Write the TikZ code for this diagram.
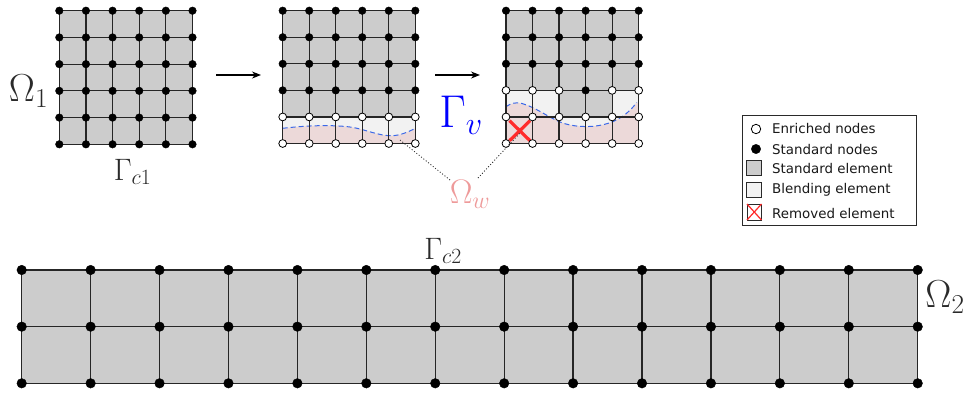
\documentclass[tikz,border=0pt]{standalone}
\usepackage{fix-cm}
\usepackage{fontspec}
\newfontfamily\legendfont{DejaVu Sans}
\usetikzlibrary{arrows.meta}
\definecolor{stdgrey}{HTML}{CCCCCC}
\definecolor{blendgrey}{HTML}{F2F2F2}
\definecolor{wetpink}{HTML}{ECD9D9}
\definecolor{curveblue}{HTML}{3A68E8}
\definecolor{omegapink}{HTML}{EE9A9A}
\definecolor{crossred}{HTML}{FF2A2A}
\definecolor{inkdark}{HTML}{2A2A2A}
\tikzset{
  x=1pt,y=-1pt,
  stdnode/.style={circle,fill=black,draw=black,line width=0.4pt,inner sep=0pt,minimum size=7.6pt},
  enrnode/.style={circle,fill=white,draw=black,line width=0.8pt,inner sep=0pt,minimum size=7.8pt},
  bignode/.style={circle,fill=black,draw=black,line width=0.4pt,inner sep=0pt,minimum size=9.6pt},
  meshline/.style={line width=1.2pt,draw=black!85},
  flowarrow/.style={line width=1.2pt,-{Stealth[length=9pt,width=7pt]}},
  dotlink/.style={line width=0.8pt,dash pattern=on 1pt off 2pt,draw=black!85},
  wetcurve/.style={line width=1pt,dash pattern=on 5pt off 3pt,draw=curveblue},
  crossmark/.style={line width=3.2pt,draw=crossred},
  lgtext/.style={anchor=west,inner sep=0pt,font=\legendfont\fontsize{13.4}{15}\selectfont,text=black!90},
  lgbox/.style={line width=1pt,draw=inkdark},
}
% \meshco{name}{x0}{y0}{x1}{y1}{nx}{ny}: named corner coordinates of a mesh
\newcommand{\meshco}[7]{%
  \foreach \i in {0,...,#6}{\foreach \j in {0,...,#7}{%
    \coordinate (#1-\i-\j) at ({#2+(#4-#2)*\i/#6},{#3+(#5-#3)*\j/#7});}}}
% \meshlines{name}{nx}{ny}
\newcommand{\meshlines}[3]{%
  \foreach \i in {0,...,#2}{\draw[meshline] (#1-\i-0) -- (#1-\i-#3);}%
  \foreach \j in {0,...,#3}{\draw[meshline] (#1-0-\j) -- (#1-#2-\j);}}
\begin{document}
\begin{tikzpicture}
\useasboundingbox (0,0) rectangle (966,392);
\meshco{a}{59.3}{10.7}{192.5}{144.3}{5}{5}
\meshco{b}{282.7}{10.7}{415.3}{143.5}{5}{5}
\meshco{c}{506}{10.7}{638.7}{143.5}{5}{5}
\meshco{d}{21.7}{270}{917.7}{383.3}{13}{2}
% fills
\fill[stdgrey] (a-0-0) rectangle (a-5-5);
\fill[stdgrey] (b-0-0) rectangle (b-5-4);
\fill[blendgrey] (b-0-4) rectangle (b-5-5);
\fill[stdgrey] (c-0-0) rectangle (c-5-3);
\fill[blendgrey] (c-0-3) rectangle (c-2-4);
\fill[stdgrey] (c-2-3) rectangle (c-4-4);
\fill[blendgrey] (c-4-3) rectangle (c-5-4);
\fill[blendgrey] (c-0-4) rectangle (c-5-5);
\fill[stdgrey] (d-0-0) rectangle (d-13-2);
% wet regions
\fill[wetpink] (b-0-5) -- (282.7,128.3) .. controls (310,125) and (335,125) .. (350,127)
  .. controls (365,129) and (378,136) .. (392,135.7) .. controls (401,135.5) and (410,131) .. (415.3,128.3) -- (b-5-5) -- cycle;
\fill[wetpink] (c-0-5) -- (506,106.7) .. controls (511,103) and (516,102) .. (522,103.5)
  .. controls (535,107) and (548,117) .. (560,122) .. controls (572,127) and (590,128) .. (604,124.5)
  .. controls (618,121) and (628,114) .. (636.7,102.5) -- (638.7,102.5) -- (c-5-5) -- cycle;
\draw[wetcurve] (282.7,128.3) .. controls (310,125) and (335,125) .. (350,127)
  .. controls (365,129) and (378,136) .. (392,135.7) .. controls (401,135.5) and (410,131) .. (415.3,128.3);
\draw[wetcurve] (506,106.7) .. controls (511,103) and (516,102) .. (522,103.5)
  .. controls (535,107) and (548,117) .. (560,122) .. controls (572,127) and (590,128) .. (604,124.5)
  .. controls (618,121) and (628,114) .. (636.7,102.5);
% mesh lines
\meshlines{a}{5}{5}
\meshlines{b}{5}{5}
\meshlines{c}{5}{5}
\meshlines{d}{13}{2}
% removed element
\coordinate (xa) at (509.5,120.7); \coordinate (xb) at (530,140.7);
\coordinate (xc) at (530,120.7); \coordinate (xd) at (509.5,140.7);
\draw[crossmark] (xa) -- (xb);
\draw[crossmark] (xc) -- (xd);
% nodes of mesh a
\foreach \i in {0,...,5}{\foreach \j in {0,...,5}{\node[stdnode] (na-\i-\j) at (a-\i-\j) {};}}
% nodes of mesh b
\foreach \i in {0,...,5}{\foreach \j in {0,...,3}{\node[stdnode] (nb-\i-\j) at (b-\i-\j) {};}
  \foreach \j in {4,5}{\node[enrnode] (nb-\i-\j) at (b-\i-\j) {};}}
% nodes of mesh c
\foreach \i in {0,...,5}{\foreach \j in {0,...,2}{\node[stdnode] (nc-\i-\j) at (c-\i-\j) {};}
  \foreach \j in {4,5}{\node[enrnode] (nc-\i-\j) at (c-\i-\j) {};}}
\foreach \i in {0,1,2,4,5}{\node[enrnode] (nc-\i-3) at (c-\i-3) {};}
\node[stdnode] (nc-3-3) at (c-3-3) {};
% nodes of mesh d
\foreach \i in {0,...,13}{\foreach \j in {0,...,2}{\node[bignode] (nd-\i-\j) at (d-\i-\j) {};}}
% arrows
\coordinate (ar1a) at (216,75); \coordinate (ar1b) at (261,75);
\coordinate (ar2a) at (435,75); \coordinate (ar2b) at (480,75);
\draw[flowarrow] (ar1a) -- (ar1b);
\draw[flowarrow] (ar2a) -- (ar2b);
% labels
\node[inner sep=0pt,text=inkdark] (om1) at (28.5,91) {\fontsize{39}{44}\selectfont$\Omega_1$};
\node[inner sep=0pt,text=inkdark] (gc1) at (132.5,172) {\fontsize{31}{36}\selectfont$\Gamma_{c1}$};
\node[inner sep=0pt,text=inkdark] (gc2) at (443,251) {\fontsize{31}{36}\selectfont$\Gamma_{c2}$};
\node[inner sep=0pt,text=inkdark] (om2) at (945,297) {\fontsize{39}{44}\selectfont$\Omega_2$};
\node[inner sep=0pt,text=blue] (gv) at (461,115) {\fontsize{46}{50}\selectfont$\Gamma_v$};
\node[inner sep=0pt,text=omegapink] (omw) at (470,194) {\fontsize{34}{38}\selectfont$\Omega_w$};
% dotted links
\coordinate (lk1) at (400,140); \coordinate (lk2) at (520,133);
\coordinate (om1s) at (450,180); \coordinate (om2s) at (478,178);
\draw[dotlink] (om1s) -- (lk1);
\draw[dotlink] (om2s) -- (lk2);
% legend
\draw[lgbox,fill=white] (742.7,115.7) rectangle (916.7,225);
\node[enrnode,line width=0.8pt,minimum size=9.4pt] (lg1) at (756,129) {};
\node[stdnode,minimum size=9.4pt] (lg2) at (756,149) {};
\draw[lgbox,fill=stdgrey] (746,160) rectangle (761,175);
\draw[lgbox,fill=blendgrey] (746,182) rectangle (761,197);
\draw[lgbox,fill=white] (747,204) rectangle (761.5,220);
\coordinate (lx1) at (747,204); \coordinate (lx2) at (761.5,220);
\coordinate (lx3) at (761.5,204); \coordinate (lx4) at (747,220);
\draw[line width=1.2pt,draw=crossred] (lx1) -- (lx2);
\draw[line width=1.2pt,draw=crossred] (lx3) -- (lx4);
\node[lgtext] (t1) at (772,128) {Enriched nodes};
\node[lgtext] (t2) at (772,149) {Standard nodes};
\node[lgtext] (t3) at (772,168) {Standard element};
\node[lgtext] (t4) at (772,190) {Blending element};
\node[lgtext] (t5) at (772,213) {Removed element};
\end{tikzpicture}
\end{document}
